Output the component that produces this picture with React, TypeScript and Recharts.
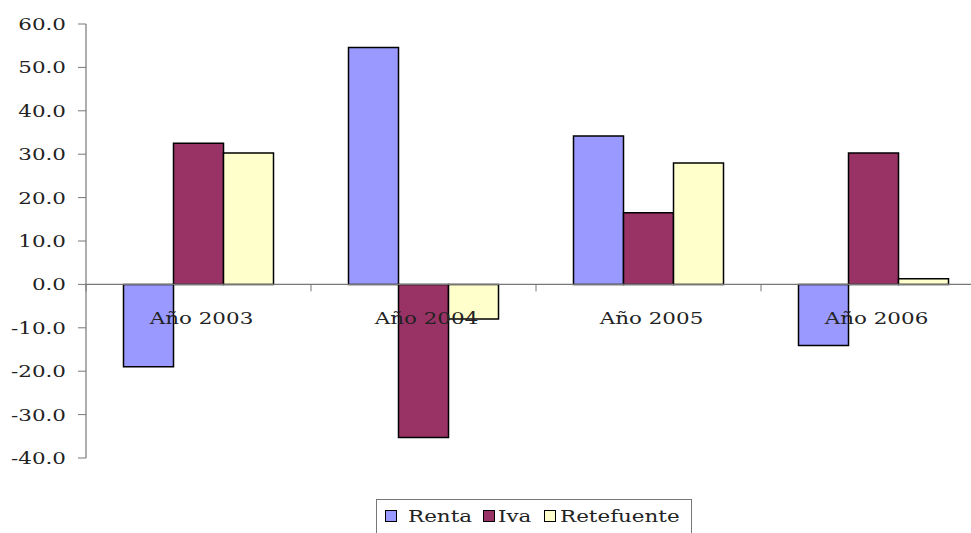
import { Bar, BarChart, ReferenceLine, XAxis, YAxis } from "recharts";

const years = ["Año 2003", "Año 2004", "Año 2005", "Año 2006"];
const renta = [-19.0, 54.6, 34.2, -14.1];
const iva = [32.5, -35.3, 16.5, 30.3];
const retefuente = [30.3, -8.0, 28.0, 1.3];
const yTicks = [-40, -30, -20, -10, 0, 10, 20, 30, 40, 50, 60];

const seriesKeys = ["Renta", "Iva", "Retefuente"];
const seriesColors = ["#9999ff", "#993366", "#ffffcc"];

const data = years.map((year, i) => ({
  year,
  Renta: renta[i],
  Iva: iva[i],
  Retefuente: retefuente[i],
}));

// layout
const CHART_W = 986; // plot runs past the right edge, cropped like the original
const CHART_H = 545;
const TOP = 24;
const BOTTOM = 86;
const AXIS_W = 86;
const Y_MIN = -40;
const Y_MAX = 60;
const PLOT_H = CHART_H - TOP - BOTTOM - 1;
const ZERO_Y = TOP + (PLOT_H * Y_MAX) / (Y_MAX - Y_MIN);
const BAND = (CHART_W - AXIS_W) / years.length;
const SX = 1.3; // the original's lettering is stretched wide
const FONT = "'DejaVu Serif', serif";
const FS = 16.5;
const AXIS_COLOR = "#777";

const YTick = ({ x, y, payload }: any) => (
  <text
    transform={`translate(${x},${y}) scale(${SX},1)`}
    textAnchor="end"
    dy="0.36em"
    fontFamily={FONT}
    fontSize={FS}
    fill="#222"
  >
    {Number(payload.value).toFixed(1)}
  </text>
);

const XTick = ({ x, payload, index }: any) => (
  <g>
    {index === 0 && (
      <line x1={x - BAND / 2} x2={x - BAND / 2} y1={ZERO_Y} y2={ZERO_Y + 7} stroke={AXIS_COLOR} />
    )}
    <line x1={x + BAND / 2} x2={x + BAND / 2} y1={ZERO_Y} y2={ZERO_Y + 7} stroke={AXIS_COLOR} />
    <text
      transform={`translate(${x + 3},${ZERO_Y + 40}) scale(${SX},1)`}
      textAnchor="middle"
      fontFamily={FONT}
      fontSize={FS}
      fill="#222"
    >
      {payload.value}
    </text>
  </g>
);

const legendSquareX = [9, 107, 168];
const legendTextX = [32, 122, 184];

function LegendBox() {
  return (
    <svg
      width={316}
      height={40}
      style={{ position: "absolute", left: 376, top: 499 }}
    >
      <rect x={0.5} y={0.5} width={315} height={39} fill="#fff" stroke={AXIS_COLOR} />
      {seriesKeys.map((k, i) => (
        <g key={k}>
          <rect
            x={legendSquareX[i] + 0.5}
            y={11.5}
            width={11}
            height={11}
            fill={seriesColors[i]}
            stroke="#000"
          />
          <text
            transform={`translate(${legendTextX[i]},23) scale(${SX},1)`}
            fontFamily={FONT}
            fontSize={FS}
            fill="#222"
          >
            {k}
          </text>
        </g>
      ))}
    </svg>
  );
}

export default function App() {
  return (
    <div
      style={{
        position: "absolute",
        left: 0,
        top: 0,
        width: 971,
        height: 533,
        overflow: "hidden",
        background: "#fff",
      }}
    >
      <BarChart
        width={CHART_W}
        height={CHART_H}
        data={data}
        margin={{ top: TOP, right: 0, bottom: BOTTOM, left: 0 }}
        barCategoryGap="16.67%"
        barGap={0}
      >
        <ReferenceLine y={0} stroke={AXIS_COLOR} strokeWidth={1.2} />
        <XAxis
          dataKey="year"
          height={1}
          axisLine={false}
          tickLine={false}
          tick={<XTick />}
          interval={0}
        />
        <YAxis
          width={AXIS_W}
          domain={[Y_MIN, Y_MAX]}
          ticks={yTicks}
          interval={0}
          axisLine={{ stroke: AXIS_COLOR, strokeWidth: 1.2 }}
          tickLine={{ stroke: AXIS_COLOR }}
          tickSize={8}
          tickMargin={12}
          tick={<YTick />}
        />
        {seriesKeys.map((k, i) => (
          <Bar
            key={k}
            dataKey={k}
            fill={seriesColors[i]}
            stroke="#000"
            strokeWidth={1.5}
            isAnimationActive={false}
          />
        ))}
      </BarChart>
      <LegendBox />
    </div>
  );
}
